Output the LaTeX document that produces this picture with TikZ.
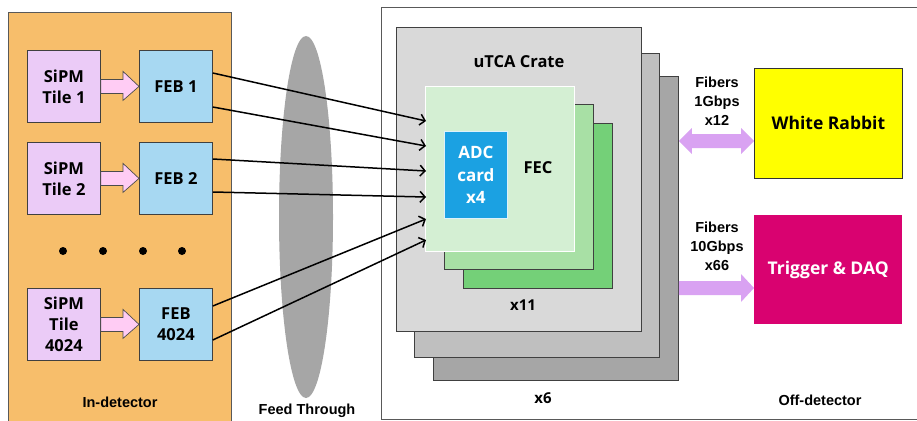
\documentclass[tikz,border=0pt]{standalone}
\usepackage{fontspec}
\setmainfont{Open Sans}
\newfontfamily\arl{Liberation Sans}
\usetikzlibrary{shapes.geometric,arrows.meta,calc}
\definecolor{orangep}{HTML}{F7BE6B}
\definecolor{tilec}{HTML}{EBCBF7}
\definecolor{febc}{HTML}{A7D8F2}
\definecolor{pinkarr}{HTML}{FFCCF4}
\definecolor{violarr}{HTML}{D9A2F2}
\definecolor{fecA}{HTML}{D4EFD3}
\definecolor{fecB}{HTML}{A8E0A5}
\definecolor{fecC}{HTML}{74D078}
\definecolor{adcc}{HTML}{1BA1E2}
\definecolor{crA}{HTML}{D9D9D9}
\definecolor{crB}{HTML}{BFBFBF}
\definecolor{crC}{HTML}{A6A6A6}
\definecolor{trigc}{HTML}{D90270}
\definecolor{yel}{HTML}{FFFF00}
\begin{document}
\begin{tikzpicture}[x=1pt,y=-1pt,
  boxfont/.style={font=\bfseries\fontsize{16.5}{21}\selectfont},
  lblfont/.style={font=\arl\bfseries\fontsize{14.5}{19}\selectfont},
  tile/.style={draw=black!75, line width=0.8pt, fill=tilec, anchor=north west,
    minimum width=73pt, minimum height=72pt, inner sep=0pt, align=center, boxfont},
  feb/.style={tile, fill=febc},
  panel/.style={draw=black!65, line width=0.8pt, anchor=north west, inner sep=0pt},
  crate/.style={draw=black!75, line width=0.8pt, anchor=north west, inner sep=0pt,
    minimum width=245pt, minimum height=304pt},
  fecbox/.style={draw=black!75, line width=0.8pt, anchor=north west, inner sep=0pt,
    minimum width=149pt, minimum height=165pt},
  blockarr/.style={fill=pinkarr, draw=black!70, line width=0.7pt, line join=miter},
  fiberarr/.style={fill=violarr, draw=none},
  link/.style={line width=1.5pt, -{Straight Barb[length=5pt,width=11pt,line width=1.5pt]}},
  dot/.style={circle, fill=black, inner sep=0pt, minimum size=8pt}
]
\useasboundingbox (0,0) rectangle (917,420);

% panels
\node[panel, fill=orangep, minimum width=223pt, minimum height=420pt] (indet) at (8,12) {};
\node[panel, minimum width=545pt, minimum height=412pt] (offdet) at (381,7) {};

% feed through
\node[ellipse, fill=crC, minimum width=54pt, minimum height=362pt, inner sep=0pt] (ft) at (306,217) {};

% tiles and FEBs
\node[tile] (t1) at (27,50) {SiPM\\Tile 1};
\node[tile] (t2) at (27,142) {SiPM\\Tile 2};
\node[tile] (t3) at (27,288) {SiPM\\Tile\\4024};
\node[feb] (f1) at (139,50) {FEB 1};
\node[feb] (f2) at (139,142) {FEB 2};
\node[feb] (f3) at (139,288) {FEB\\4024};

% block arrows tile -> FEB
\foreach \a/\b in {t1/f1,t2/f2,t3/f3}{
  \draw[blockarr] ($(\a.east)+(0,-7)$) -- ($(\b.west)+(-16,-7)$) -- ($(\b.west)+(-16,-15)$)
    -- (\b.west) -- ($(\b.west)+(-16,14)$) -- ($(\b.west)+(-16,7)$) -- ($(\a.east)+(0,7)$) -- cycle;
}

% dots
\node[dot] (d1) at (63,251) {};
\node[dot] (d2) at (103,251) {};
\node[dot] (d3) at (143,251) {};
\node[dot] (d4) at (182,251) {};

% crates
\node[crate, fill=crC] (c3) at (433,76) {};
\node[crate, fill=crB] (c2) at (414,53) {};
\node[crate, fill=crA] (c1) at (396,27) {};

% FECs
\node[fecbox, fill=fecC] (fec3) at (463,123) {};
\node[fecbox, fill=fecB] (fec2) at (444,104) {};
\node[fecbox, fill=fecA, draw=white] (fec1) at (425,86) {};
\node[draw=white!85!adcc, line width=0.8pt, fill=adcc, anchor=north west, minimum width=63pt, minimum height=87pt,
  inner sep=0pt, align=center, text=white, font=\bfseries\fontsize{17}{22.5}\selectfont] (adc) at (444,131) {ADC\\card\\x4};
\node[boxfont] (feclbl) at (538,168) {FEC};
\node[boxfont] (cratelbl) at (519,62) {uTCA Crate};
\node[font=\bfseries\fontsize{15}{18}\selectfont] (x11) at (523,305) {x11};
\node[font=\bfseries\fontsize{15}{18}\selectfont] (x6) at (543,398) {x6};

% links FEB -> FEC
\draw[link] ($(f1.north east)+(0,23)$) -- ($(fec1.north west)+(1,35)$);
\draw[link] ($(f1.north east)+(0,57)$) -- ($(fec1.north west)+(1,60)$);
\draw[link] ($(f2.north east)+(0,17)$) -- ($(fec1.north west)+(1,85)$);
\draw[link] ($(f2.north east)+(0,50)$) -- ($(fec1.north west)+(1,111)$);
\draw[link] ($(f3.north east)+(0,18)$) -- ($(fec1.north west)+(1,133)$);
\draw[link] ($(f3.north east)+(0,52)$) -- ($(fec1.north west)+(1,154)$);

% off-detector boxes
\node[draw=black!80, line width=0.8pt, fill=yel, anchor=north west, minimum width=148pt, minimum height=110pt,
  inner sep=0pt, boxfont, font=\bfseries\fontsize{17.5}{21}\selectfont] (wr) at (754,68) {White Rabbit};
\node[fill=trigc, anchor=north west, minimum width=148pt, minimum height=109pt,
  inner sep=0pt, text=white, font=\bfseries\fontsize{17.5}{21}\selectfont] (daq) at (754,215) {Trigger \& DAQ};

% fiber arrows
\draw[fiberarr] (c3.east |- 0,141) -- ++(13,-13) -- ++(0,6) -- ($(wr.west |- 0,134)+(-13,0)$) -- ++(0,-6)
  -- (wr.west |- 0,141) -- ++(-13,13) -- ++(0,-6) -- ($(c3.east |- 0,148)+(13,0)$) -- ++(0,6) -- cycle;
\draw[fiberarr] (c3.east |- 0,281) -- ($(daq.west |- 0,281)+(-13,0)$) -- ++(0,-7) -- (daq.west |- 0,288)
  -- ++(-13,14) -- ++(0,-7) -- (c3.east |- 0,295) -- cycle;

\node[lblfont, align=center] (fib1) at (717,101) {Fibers\\1Gbps\\x12};
\node[lblfont, align=center] (fib2) at (717,246) {Fibers\\10Gbps\\x66};

% panel labels
\node[lblfont] (indetlbl) at (120,402) {In-detector};
\node[lblfont] (ftlbl) at (307,411) {Feed Through};
\node[lblfont] (offlbl) at (820,400) {Off-detector};
\end{tikzpicture}
\end{document}
